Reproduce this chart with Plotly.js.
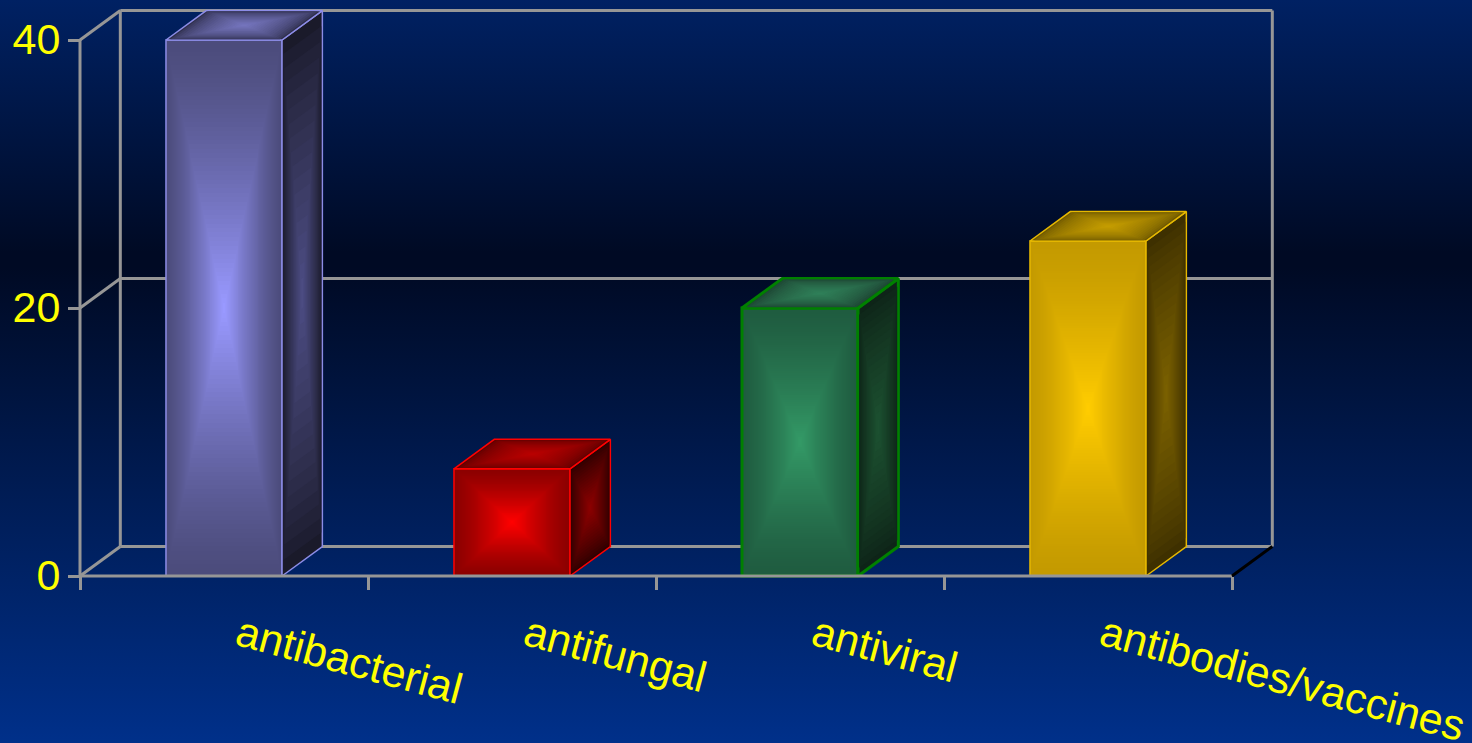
<!DOCTYPE html>
<html>
<head>
<meta charset="utf-8">
<script src="https://cdn.plot.ly/plotly-3.0.1.min.js"></script>
<style>
html,body{margin:0;padding:0;width:1472px;height:743px;overflow:hidden;
background:linear-gradient(180deg,#002163 0%,#000a24 34%,#000a24 36%,#00308a 100%);}
#chart{width:1472px;height:743px;}
</style>
</head>
<body>
<div id="chart"></div>
<script>
const categories = ["antibacterial","antifungal","antiviral","antibodies/vaccines"];
const values = [40,8,20,25];
const yTicks = [0,20,40];
const lineColors = ["#8c8ce6","#ff0000","#008000","#e6b800"];
const lineWidths = [1.5,1.5,3,1.5];
const frontCenter = ["#9999ff","#ff0000","#339966","#ffcc00"];
const frontEdge = ["#4c4c7c","#8c0000","#1f5c40","#c49a00"];
const sideCenter = ["#4c4c82","#8a0000","#1c5030","#7a6000"];
const sideEdge = ["#1a1a2a","#300000","#0e2418","#3e3000"];
const topCenter = ["#7474bc","#b80000","#2f7f58","#c49c00"];
const topEdge = ["#2e2e4c","#600000","#1c4030","#6e5800"];

const GRAY="#969696", BAR_W=0.403, DX=0.14, DY=2.2, XL=-0.5, XR=3.5;
const PX_X=288, PX_Y=13.4;
const idx = categories.map((_,i)=>i);

function hex(c){return [1,3,5].map(k=>parseInt(c.substr(k,2),16));}
function mix(a,b,t){const A=hex(a),B=hex(b);return "rgb("+A.map((v,i)=>Math.round(v+(B[i]-v)*t)).join(",")+")";}

const traces=[];
// front faces: the data bar, then nested bars for the gradient
traces.push({type:"bar",x:idx,y:values,width:BAR_W,text:categories,hoverinfo:"text+y",textposition:"none",
  marker:{color:frontEdge,line:{color:lineColors,width:lineWidths}}});
const STEPS=60;
for(let s=1;s<STEPS;s++){
  const k=1-s/STEPS*0.985-0.012, t=Math.pow(s/(STEPS-1),1.3);
  traces.push({type:"bar",x:idx,y:values.map(v=>v*k),base:values.map(v=>v*(1-k)/2),width:BAR_W*k,
    hoverinfo:"skip",marker:{color:idx.map(i=>mix(frontEdge[i],frontCenter[i],t)),line:{width:0}}});
}
// side and top faces: nested parallelograms
function nested(pts,edge,center,line,lw,power){
  const cx=pts.reduce((a,p)=>a+p[0],0)/4, cy=pts.reduce((a,p)=>a+p[1],0)/4;
  const N=18;
  for(let s=0;s<N;s++){
    const k=1-s/N, t=Math.pow(s/(N-1),power);
    const P=pts.concat([pts[0]]).map(p=>[cx+(p[0]-cx)*k,cy+(p[1]-cy)*k]);
    traces.push({type:"scatter",mode:s==0?"lines":"none",x:P.map(p=>p[0]),y:P.map(p=>p[1]),fill:"toself",
      fillcolor:mix(edge,center,t),line:{color:line,width:s==0?lw:0},hoverinfo:"skip",showlegend:false});
  }
}
values.forEach((v,i)=>{
  const L=i-BAR_W/2,R=i+BAR_W/2;
  nested([[R,0],[R+DX,DY],[R+DX,v+DY],[R,v]],sideEdge[i],sideCenter[i],lineColors[i],lineWidths[i],0.85);
  nested([[L,v],[L+DX,v+DY],[R+DX,v+DY],[R,v]],topEdge[i],topCenter[i],lineColors[i],lineWidths[i],0.6);
});
// front frame lines
function seg(xs,ys,color,w){traces.push({type:"scatter",mode:"lines",x:xs,y:ys,line:{color:color||GRAY,width:w||3},hoverinfo:"skip",showlegend:false});}
const topTick=yTicks[yTicks.length-1];
seg([XL,XL],[0,topTick]);
seg([XL,XR],[0,0]);
seg([XR,XR+DX],[0,DY],"#000000",3);

// back wall, behind the bars
const shapes=[];
function back(x0,y0,x1,y1){shapes.push({type:"line",layer:"below",xref:"x",yref:"y",x0,y0,x1,y1,line:{color:GRAY,width:3}});}
const wallL=XL+DX,wallR=XR+DX;
yTicks.forEach(t=>{back(wallL,t+DY,wallR,t+DY);back(XL,t,wallL,t+DY);});
back(wallL,DY,wallL,topTick+DY);
back(wallR,DY,wallR,topTick+DY);

// the plot area is a little larger than the frame so no line is cut at its edge
const area={l:60,r:1290,t:2,b:596}, axisX=80, axisY=576;
const w=area.r-area.l, h=area.b-area.t;
const font={family:"'Liberation Sans',Arial,sans-serif",color:"#ffff00",size:43};
const layout={
  width:1472,height:743,showlegend:false,barmode:"overlay",bargap:0,
  paper_bgcolor:"rgba(0,0,0,0)",plot_bgcolor:"rgba(0,0,0,0)",
  margin:{l:area.l,r:1472-area.r,t:area.t,b:743-area.b,pad:0},
  shapes,
  xaxis:{type:"linear",range:[XL-(axisX-area.l)/PX_X,XL+(area.r-axisX)/PX_X],showgrid:false,zeroline:false,showline:false,
    anchor:"free",position:(area.b-axisY)/h,
    tickmode:"array",tickvals:idx,ticktext:categories,ticks:"",tickangle:15,tickfont:font,
    ticklabelstandoff:25,ticklabelshift:15,ticklabeloverflow:"allow",automargin:false,
    minor:{tickmode:"array",tickvals:[-0.5,0.5,1.5,2.5,3.5],ticks:"outside",ticklen:13,tickwidth:3,tickcolor:GRAY,showgrid:false}},
  yaxis:{type:"linear",range:[-(area.b-axisY)/PX_Y,(axisY-area.t)/PX_Y],showgrid:false,zeroline:false,showline:false,
    anchor:"free",position:(axisX-area.l)/w,
    tickmode:"array",tickvals:yTicks,ticktext:yTicks.map(String),ticks:"outside",ticklen:12,tickwidth:3,tickcolor:GRAY,
    tickfont:font,ticklabelstandoff:-1,ticklabelshift:-1,ticklabeloverflow:"allow",automargin:false}
};
Plotly.newPlot("chart",traces,layout,{displayModeBar:false,staticPlot:true});
</script>
</body>
</html>
